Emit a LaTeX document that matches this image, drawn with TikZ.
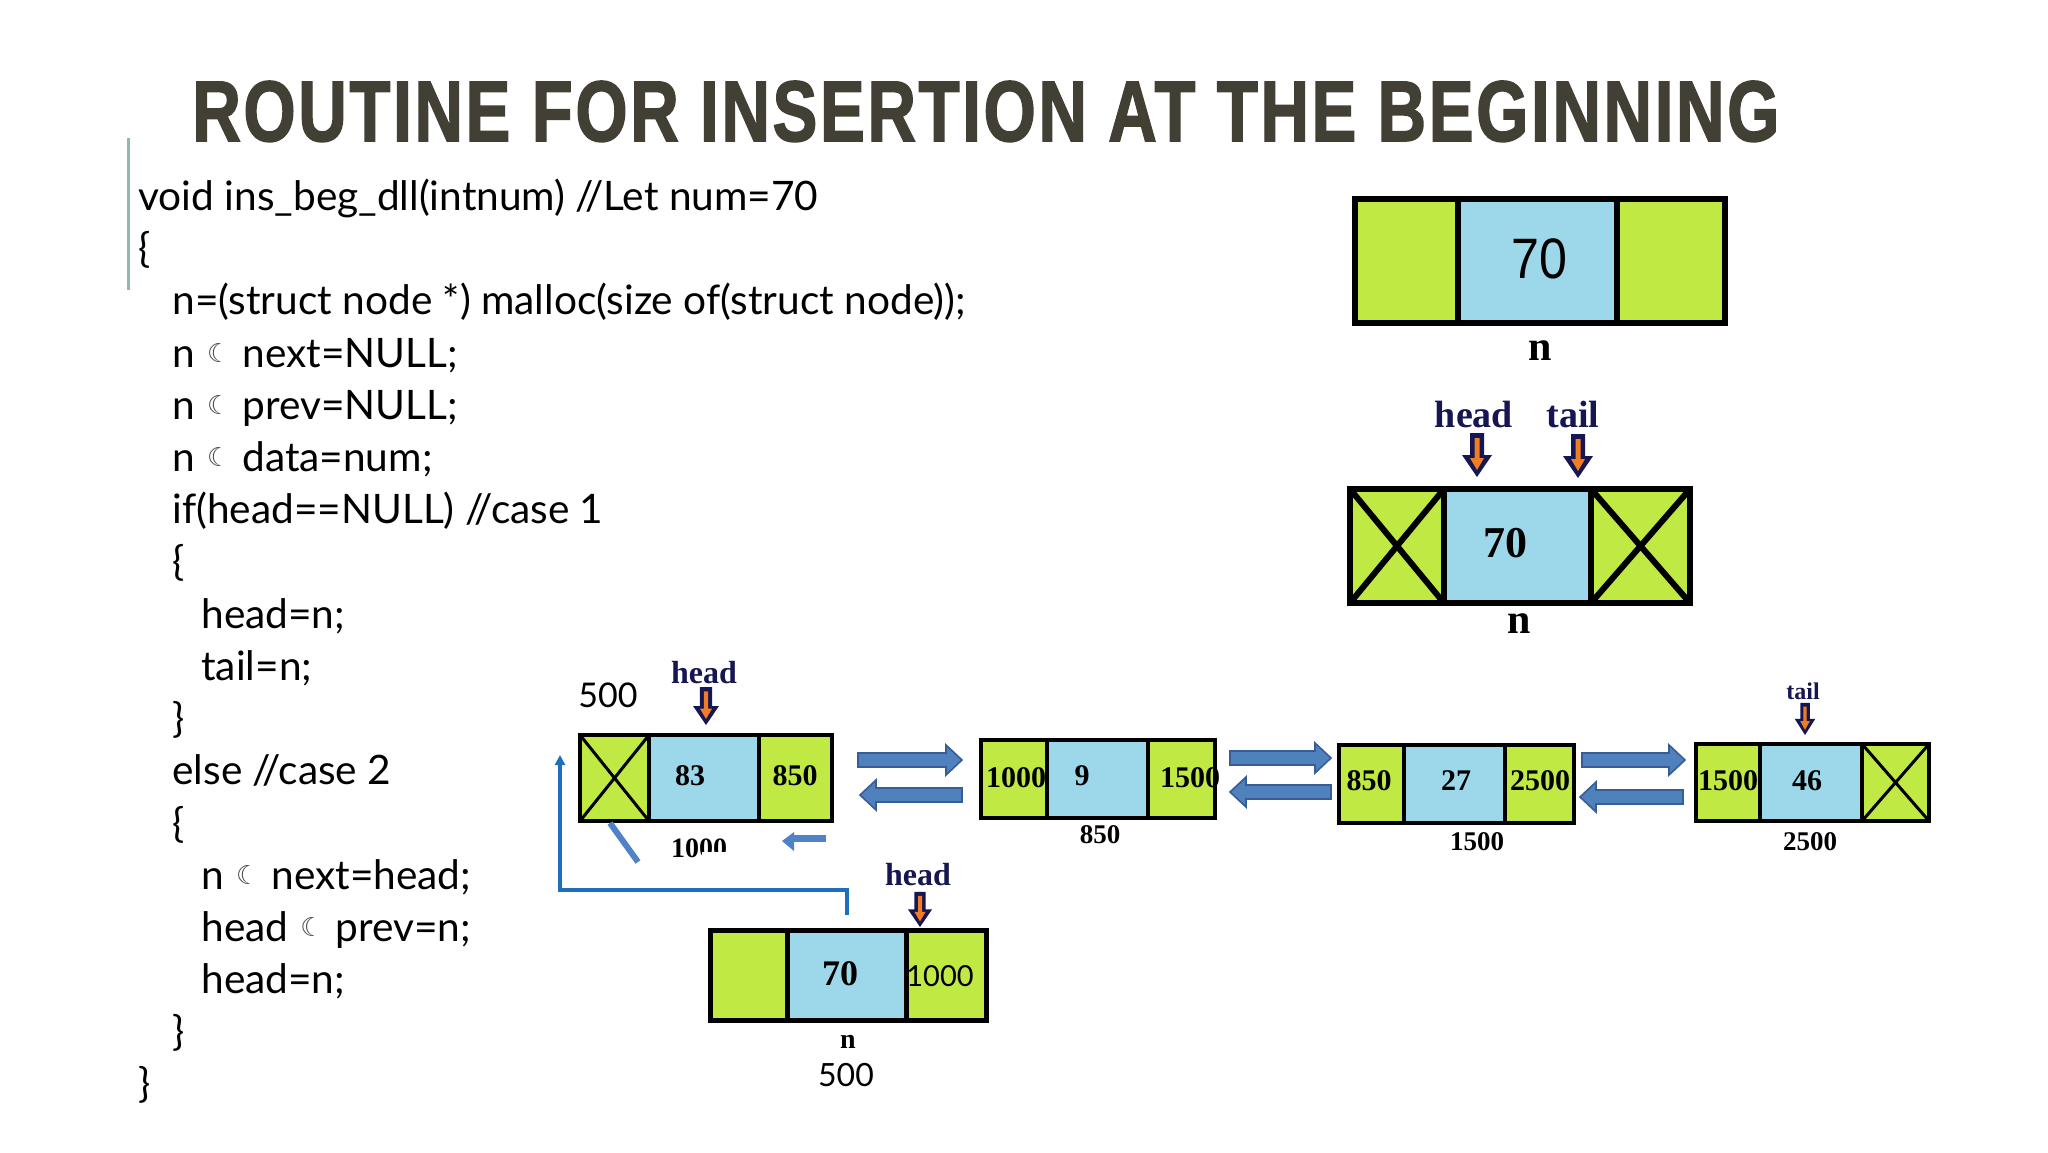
\documentclass[tikz,border=0pt]{standalone}
\usepackage{fontspec}
\setmainfont{Lato}
\newfontfamily\tnr{Liberation Serif}
\newfontfamily\arialf{Liberation Sans}
\newfontfamily\titlef{Liberation Sans}[BoldFeatures={FakeBold=2}, LetterSpace=4]
\newfontfamily\djv{DejaVu Sans}
\usetikzlibrary{arrows.meta,calc,fit}
\definecolor{cgreen}{RGB}{193,233,68}
\definecolor{cblue}{RGB}{156,216,234}
\definecolor{cnavy}{RGB}{22,22,82}
\definecolor{corange}{RGB}{240,125,35}
\definecolor{ctitle}{RGB}{66,63,52}
\definecolor{cconn}{RGB}{30,110,190}
\definecolor{cblk}{RGB}{79,129,189}
\definecolor{cblkd}{RGB}{56,93,150}
\definecolor{cart}{RGB}{80,130,200}
\definecolor{cbar}{RGB}{150,182,172}
\definecolor{mgray}{RGB}{70,70,70}
\newcommand\tnrb{\tnr\bfseries}
\newcommand\moonsym{{\color{mgray}\raisebox{2.5pt}{\djv\fontsize{13}{13}\selectfont ☾}}}
\newcommand\dllbox[8]{%
  \node[gcell, line width=#8, fit={(#2,#6) (#3,#7)}] (#1l) {};
  \node[bcell, line width=#8, fit={(#3,#6) (#4,#7)}] (#1m) {};
  \node[gcell, line width=#8, fit={(#4,#6) (#5,#7)}] (#1r) {};}
\newcommand\rblk[2]{\filldraw[blk] ($(#1)+(0,-7)$) -- ($(#2)+(-16,-7)$) -- ($(#2)+(-16,-15)$) -- (#2) -- ($(#2)+(-16,15)$) -- ($(#2)+(-16,7)$) -- ($(#1)+(0,7)$) -- cycle;}
\newcommand\lblk[2]{\filldraw[blk] ($(#1)+(0,-7)$) -- ($(#2)+(16,-7)$) -- ($(#2)+(16,-15)$) -- (#2) -- ($(#2)+(16,15)$) -- ($(#2)+(16,7)$) -- ($(#1)+(0,7)$) -- cycle;}
\tikzset{
  cell/.style={draw=black, inner sep=0pt, outer sep=0pt},
  gcell/.style={cell, fill=cgreen},
  bcell/.style={cell, fill=cblue},
  code/.style={anchor=base west, inner sep=0pt, font=\fontsize{20.3}{24}\selectfont},
  txt/.style={anchor=base, inner sep=0pt},
  num/.style={txt, font=\tnrb\fontsize{15}{15}\selectfont},
  lab/.style={txt, font=\tnrb\fontsize{13.5}{14}\selectfont},
  ptrlab/.style={txt, text=cnavy},
  blk/.style={fill=cblk, draw=cblkd, line width=0.8pt},
  conn/.style={draw=cconn, line width=2pt},
  ptr/.pic={
    \fill[cnavy] (-7,-44) -- (7,-44) -- (7,-22) -- (15,-22) -- (0,0) -- (-15,-22) -- (-7,-22) -- cycle;
    \fill[corange] (-2.5,-39) -- (2.5,-39) -- (2.5,-19) -- (7,-19) -- (0,-7) -- (-7,-19) -- (-2.5,-19) -- cycle;
  }
}
\begin{document}
\begin{tikzpicture}[x=0.5pt,y=-0.5pt]
\useasboundingbox (0,0) rectangle (2048,1152);
\fill[white] (0,0) rectangle (2048,1152);
% title
\node[anchor=base west, inner sep=0pt, text=ctitle] (title) at (192,141)
  {\resizebox{793.5pt}{30pt}{\titlef\bfseries ROUTINE FOR INSERTION AT THE BEGINNING}};
\draw[cbar, line width=1.5pt] (128,138) -- (128,290);
% code
\node[code] (c1) at (138,210) {void ins\_beg\_dll(intnum) //Let num=70};
\node[code] (c2) at (138,262) {\{};
\node[code] (c3) at (172,314) {n=(struct node *) malloc(size of(struct node));};
\node[code] (c4) at (172,367) {n\hspace{6pt}\moonsym\hspace{6pt}next=NULL;};
\node[code] (c5) at (172,419) {n\hspace{6pt}\moonsym\hspace{6pt}prev=NULL;};
\node[code] (c6) at (172,471) {n\hspace{6pt}\moonsym\hspace{6pt}data=num;};
\node[code] (c7) at (172,523) {if(head==NULL) //case 1};
\node[code] (c8) at (172,575) {\{};
\node[code] (c9) at (201,628) {head=n;};
\node[code] (c10) at (201,680) {tail=n;};
\node[code] (c11) at (172,732) {\}};
\node[code] (c12) at (172,784) {else //case 2};
\node[code] (c13) at (172,837) {\{};
\node[code] (c14) at (201,889) {n\hspace{6pt}\moonsym\hspace{6pt}next=head;};
\node[code] (c15) at (201,941) {head\hspace{6pt}\moonsym\hspace{6pt}prev=n;};
\node[code] (c16) at (201,993) {head=n;};
\node[code] (c17) at (172,1045) {\}};
\node[code] (c18) at (138,1097) {\}};
% top node n
\dllbox{T}{1355}{1458}{1617}{1725}{199}{323}{3pt}
\node[txt, font=\arialf\fontsize{28.5}{30}\selectfont] (tv) at (1539,278) {\scalebox{0.88}[1]{70}};
\node[txt, font=\tnrb\fontsize{21}{22}\selectfont] (tn) at (1540,360) {n};
% case 1 node
\dllbox{U}{1350}{1444}{1591}{1690}{489}{603}{3pt}
\draw[line width=3pt] (Ul.north west) -- (Ul.south east) (Ul.south west) -- (Ul.north east);
\draw[line width=3pt] (Ur.north west) -- (Ur.south east) (Ur.south west) -- (Ur.north east);
\node[txt, font=\tnrb\fontsize{22}{23}\selectfont] (uv) at (1505,557) {70};
\node[txt, font=\tnrb\fontsize{21}{22}\selectfont] (un) at (1519,633) {n};
\node[ptrlab, font=\tnrb\fontsize{19}{20}\selectfont] (uhead) at (1474,427) {head};
\node[ptrlab, font=\tnrb\fontsize{19}{20}\selectfont] (utail) at (1573,427) {tail};
\pic at (1477,477) {ptr};
\pic at (1578,478) {ptr};
% list
\dllbox{A}{580}{649}{759}{832}{735}{821}{2pt}
\draw[line width=1.5pt] (Al.north west) -- (Al.south east) (Al.south west) -- (Al.north east);
\node[num] (av) at (690,785) {83};
\node[num] (ar) at (795,785) {850};
\node[txt, font=\fontsize{17}{18}\selectfont, anchor=base west] (a500) at (578,707) {500};
\node[ptrlab, font=\tnrb\fontsize{16}{17}\selectfont] (ahead) at (704,683) {head};
\pic[scale=0.86] at (706,725) {ptr};
\dllbox{B}{981}{1047}{1148}{1215}{740}{818}{2pt}
\node[num] (bl) at (1016,787) {1000};
\node[num] (bv) at (1082,785) {9};
\node[num] (br) at (1190,787) {1500};
\node[lab] (bad) at (1100,843) {850};
\dllbox{C}{1339}{1404}{1505}{1574}{745}{823}{2pt}
\node[num] (cl) at (1369,790) {850};
\node[num] (cv) at (1456,790) {27};
\node[num] (cr) at (1540,790) {2500};
\node[lab] (cad) at (1477,850) {1500};
\dllbox{D}{1696}{1760}{1862}{1929}{744}{821}{2pt}
\draw[line width=1.5pt] (Dr.north west) -- (Dr.south east) (Dr.south west) -- (Dr.north east);
\node[num] (dl) at (1728,790) {1500};
\node[num] (dv) at (1807,790) {46};
\node[lab] (dad) at (1810,850) {2500};
\node[ptrlab, font=\tnrb\fontsize{12}{13}\selectfont] (dtail) at (1803,699) {tail};
\pic[xscale=0.68, yscale=0.73] at (1805,735) {ptr};
% block arrows
\coordinate (ab1) at (858,760); \coordinate (ab2) at (962,760);
\coordinate (ba1) at (962,795); \coordinate (ba2) at (860,795);
\coordinate (bc1) at (1230,758); \coordinate (bc2) at (1331,758);
\coordinate (cb1) at (1331,792); \coordinate (cb2) at (1230,792);
\coordinate (cd1) at (1582,760); \coordinate (cd2) at (1685,760);
\coordinate (dc1) at (1683,797); \coordinate (dc2) at (1580,797);
\rblk{ab1}{ab2} \lblk{ba1}{ba2}
\rblk{bc1}{bc2} \lblk{cb1}{cb2}
\rblk{cd1}{cd2} \lblk{dc1}{dc2}
% residue marks below node A
\draw[cart, line width=3pt] (610,823) -- (638,862);
\begin{scope}
  \clip (660,830) rectangle (701,860) (701,830) rectangle (745,851);
  \node[txt, font=\tnrb\fontsize{14}{15}\selectfont] (aad) at (699,857) {1000};
\end{scope}
\fill[cart] (790,835) rectangle (826,842);
\fill[cart] (782,841) -- (794,832) -- (794,851) -- cycle;
% new node n
\dllbox{N}{710}{787}{906}{986}{930}{1020}{2.5pt}
\node[txt, font=\tnrb\fontsize{18}{19}\selectfont] (nv) at (840,985) {70};
\node[anchor=base west, inner sep=0pt, font=\fontsize{14.5}{15}\selectfont] (nr) at (906,986) {1000};
\node[ptrlab, font=\tnrb\fontsize{16}{17}\selectfont] (nhead) at (918,885) {head};
\pic[scale=0.8] at (920,927) {ptr};
\node[txt, font=\tnrb\fontsize{14}{15}\selectfont] (nn) at (848,1048) {n};
\node[txt, font=\fontsize{16}{17}\selectfont] (n500) at (846,1086) {500};
% connector from n to A
\coordinate (cTop) at ($(Nm.north)+(0,-15)$);
\coordinate (cCorner) at (560,890);
\coordinate (cA) at (560,755);
\draw[conn, -{Triangle[length=5pt,width=5pt]}] (cTop) |- (cCorner) -- (cA);
\end{tikzpicture}
\end{document}
